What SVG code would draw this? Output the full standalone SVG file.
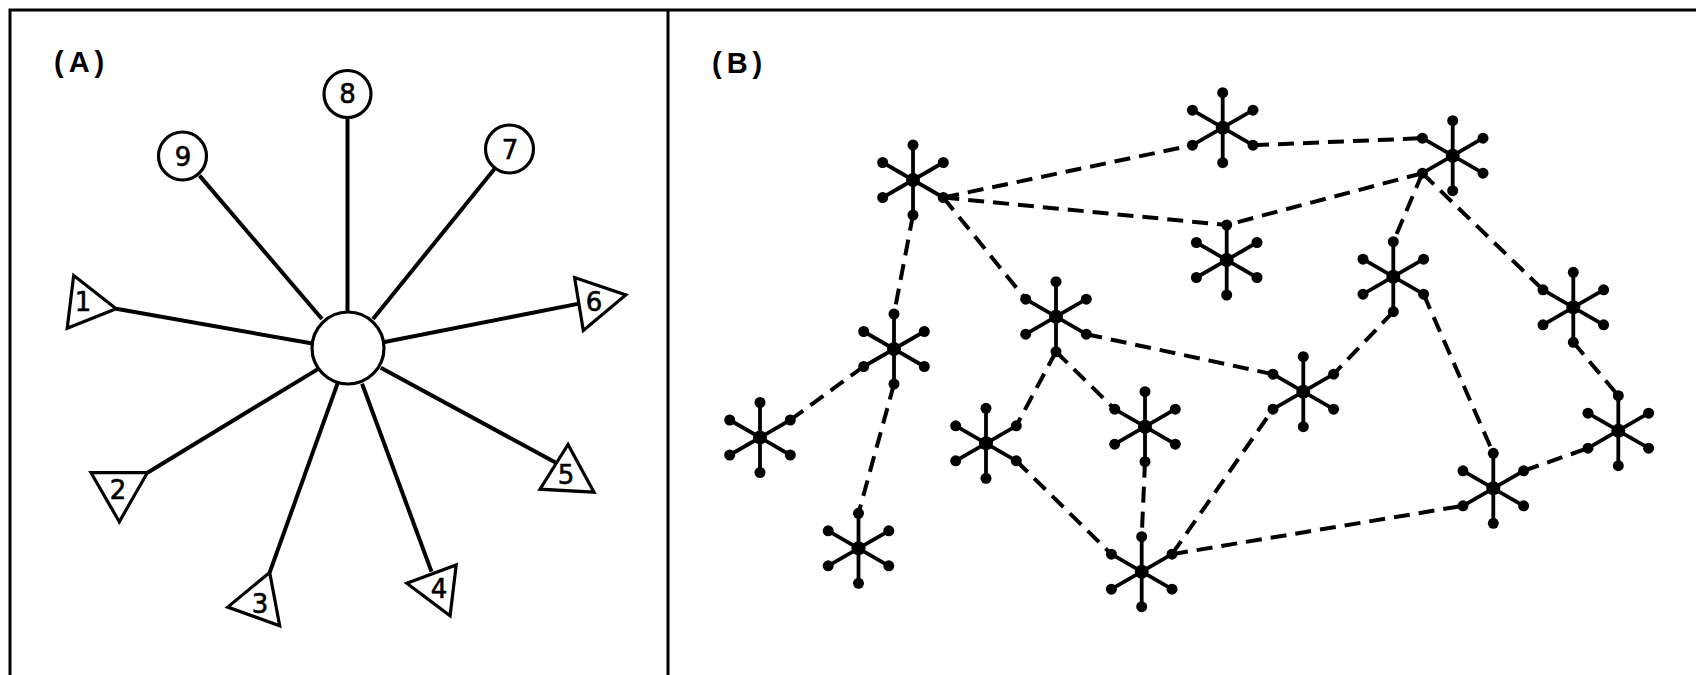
<svg xmlns="http://www.w3.org/2000/svg" xmlns:xlink="http://www.w3.org/1999/xlink" width="1696" height="675" viewBox="0 0 1696 675">
<style>
.frame{stroke:#000;stroke-width:3;fill:none}
.arm{stroke:#000;stroke-width:4;fill:none}
.spoke{stroke:#000;stroke-width:3.8;fill:none}
.dash{stroke:#000;stroke-width:4;fill:none;stroke-dasharray:16 9}
.shape{stroke:#000;stroke-width:3.2;fill:#fff;stroke-linejoin:miter}
.lbl{font-family:"DejaVu Sans","Liberation Sans",sans-serif;font-size:26px;font-weight:normal;text-anchor:middle;fill:#000;stroke:#000;stroke-width:0.6}
.title{font-family:"Liberation Sans",Arial,sans-serif;font-size:29px;font-weight:bold;fill:#000;letter-spacing:5px}
</style>
<defs>
<g id="star">
<line class="spoke" x1="0" y1="-35" x2="0" y2="35"/>
<line class="spoke" x1="-30.3" y1="-17.5" x2="30.3" y2="17.5"/>
<line class="spoke" x1="-30.3" y1="17.5" x2="30.3" y2="-17.5"/>
<circle r="7" fill="#000"/>
<circle cx="0" cy="-35" r="5.5" fill="#000"/>
<circle cx="0" cy="35" r="5.5" fill="#000"/>
<circle cx="30.3" cy="-17.5" r="5.5" fill="#000"/>
<circle cx="30.3" cy="17.5" r="5.5" fill="#000"/>
<circle cx="-30.3" cy="-17.5" r="5.5" fill="#000"/>
<circle cx="-30.3" cy="17.5" r="5.5" fill="#000"/>
</g>
</defs>
<rect width="1696" height="675" fill="#fff"/>
<g id="frame">
<path class="frame" d="M10 675 V10 H1696 M668 10 V675"/>
</g>
<g id="labels">
<text class="title" x="54" y="72">(A)</text>
<text class="title" x="712" y="73">(B)</text>
</g>
<g id="connectors">
<line class="arm" x1="347.5" y1="117.5" x2="347.5" y2="312"/>
<line class="arm" x1="199.5" y1="175.6" x2="322" y2="319"/>
<line class="arm" x1="494.4" y1="169" x2="373" y2="319"/>
<line class="arm" x1="116.2" y1="308.8" x2="312.5" y2="343.5"/>
<line class="arm" x1="384.5" y1="342" x2="579" y2="303.6"/>
<line class="arm" x1="147.4" y1="472.7" x2="318.7" y2="368.6"/>
<line class="arm" x1="269.7" y1="572.4" x2="338.2" y2="381.6"/>
<line class="arm" x1="362.1" y1="383.8" x2="431.5" y2="571.6"/>
<line class="arm" x1="380.8" y1="367.7" x2="556.4" y2="463.1"/>
<line class="dash" x1="943.3" y1="197.5" x2="1192.4" y2="145.2"/>
<line class="dash" x1="943.3" y1="197.5" x2="1226.7" y2="225"/>
<line class="dash" x1="1253" y1="145.2" x2="1422.4" y2="138.2"/>
<line class="dash" x1="1422.4" y1="173.2" x2="1226.7" y2="225"/>
<line class="dash" x1="913" y1="215" x2="894" y2="314"/>
<line class="dash" x1="943.3" y1="197.5" x2="1025.7" y2="299.2"/>
<line class="dash" x1="1422.4" y1="173.2" x2="1393.3" y2="241.7"/>
<line class="dash" x1="1422.4" y1="173.2" x2="1543" y2="289.8"/>
<line class="dash" x1="1423.6" y1="294.2" x2="1493.3" y2="453.3"/>
<line class="dash" x1="1393.3" y1="311.7" x2="1333.6" y2="374.2"/>
<line class="dash" x1="1086.3" y1="334.2" x2="1273" y2="374.2"/>
<line class="dash" x1="1056" y1="351.7" x2="1016.3" y2="425.8"/>
<line class="dash" x1="1056" y1="351.7" x2="1114.7" y2="409.2"/>
<line class="dash" x1="863.7" y1="366.5" x2="790.3" y2="420"/>
<line class="dash" x1="894" y1="384" x2="858.5" y2="513.3"/>
<line class="dash" x1="1016.3" y1="460.8" x2="1111.4" y2="554.2"/>
<line class="dash" x1="1145" y1="461.7" x2="1141.7" y2="536.7"/>
<line class="dash" x1="1172" y1="554.2" x2="1273" y2="409.2"/>
<line class="dash" x1="1172" y1="554.2" x2="1463" y2="505.8"/>
<line class="dash" x1="1523.6" y1="470.8" x2="1588" y2="448.2"/>
<line class="dash" x1="1573.3" y1="342.3" x2="1618.3" y2="395.7"/>
</g>
<g id="hub"><circle class="shape" cx="348" cy="348" r="36"/></g>
<g id="n8"><circle class="shape" cx="347.5" cy="94" r="23.5"/><text class="lbl" x="347.5" y="103">8</text></g>
<g id="n9"><circle class="shape" cx="182.5" cy="156" r="24"/><text class="lbl" x="183" y="166">9</text></g>
<g id="n7"><circle class="shape" cx="509.5" cy="149" r="24"/><text class="lbl" x="510" y="159">7</text></g>
<g id="n1"><polygon class="shape" points="73.7,275.4 67.2,328.3 116.2,308.8"/><text class="lbl" x="83" y="311">1</text></g>
<g id="n6"><polygon class="shape" points="574.6,277.5 583.3,330.4 625.8,294.9"/><text class="lbl" x="594" y="311">6</text></g>
<g id="n2"><polygon class="shape" points="91,472.7 147.4,472.7 119.3,521.7"/><text class="lbl" x="118" y="499">2</text></g>
<g id="n3"><polygon class="shape" points="269.7,572.4 227.7,607.1 279.7,625.8"/><text class="lbl" x="260" y="613">3</text></g>
<g id="n4"><polygon class="shape" points="406.8,583.3 456.2,565 450.1,615.8"/><text class="lbl" x="439" y="598">4</text></g>
<g id="n5"><polygon class="shape" points="568,444.5 540,489.2 594,492.2"/><text class="lbl" x="566" y="484">5</text></g>
<g id="s1"><use xlink:href="#star" href="#star" x="913" y="180"/></g>
<g id="s2"><use xlink:href="#star" href="#star" x="1222.7" y="127.7"/></g>
<g id="s3"><use xlink:href="#star" href="#star" x="1452.7" y="155.7"/></g>
<g id="s4"><use xlink:href="#star" href="#star" x="1226.7" y="260"/></g>
<g id="s5"><use xlink:href="#star" href="#star" x="1393.3" y="276.7"/></g>
<g id="s6"><use xlink:href="#star" href="#star" x="1056" y="316.7"/></g>
<g id="s7"><use xlink:href="#star" href="#star" x="894" y="349"/></g>
<g id="s8"><use xlink:href="#star" href="#star" x="1573.3" y="307.3"/></g>
<g id="s9"><use xlink:href="#star" href="#star" x="1303.3" y="391.7"/></g>
<g id="s10"><use xlink:href="#star" href="#star" x="760" y="437.5"/></g>
<g id="s11"><use xlink:href="#star" href="#star" x="986" y="443.3"/></g>
<g id="s12"><use xlink:href="#star" href="#star" x="1145" y="426.7"/></g>
<g id="s13"><use xlink:href="#star" href="#star" x="1618.3" y="430.7"/></g>
<g id="s14"><use xlink:href="#star" href="#star" x="1493.3" y="488.3"/></g>
<g id="s15"><use xlink:href="#star" href="#star" x="858.5" y="548.3"/></g>
<g id="s16"><use xlink:href="#star" href="#star" x="1141.7" y="571.7"/></g>
</svg>
